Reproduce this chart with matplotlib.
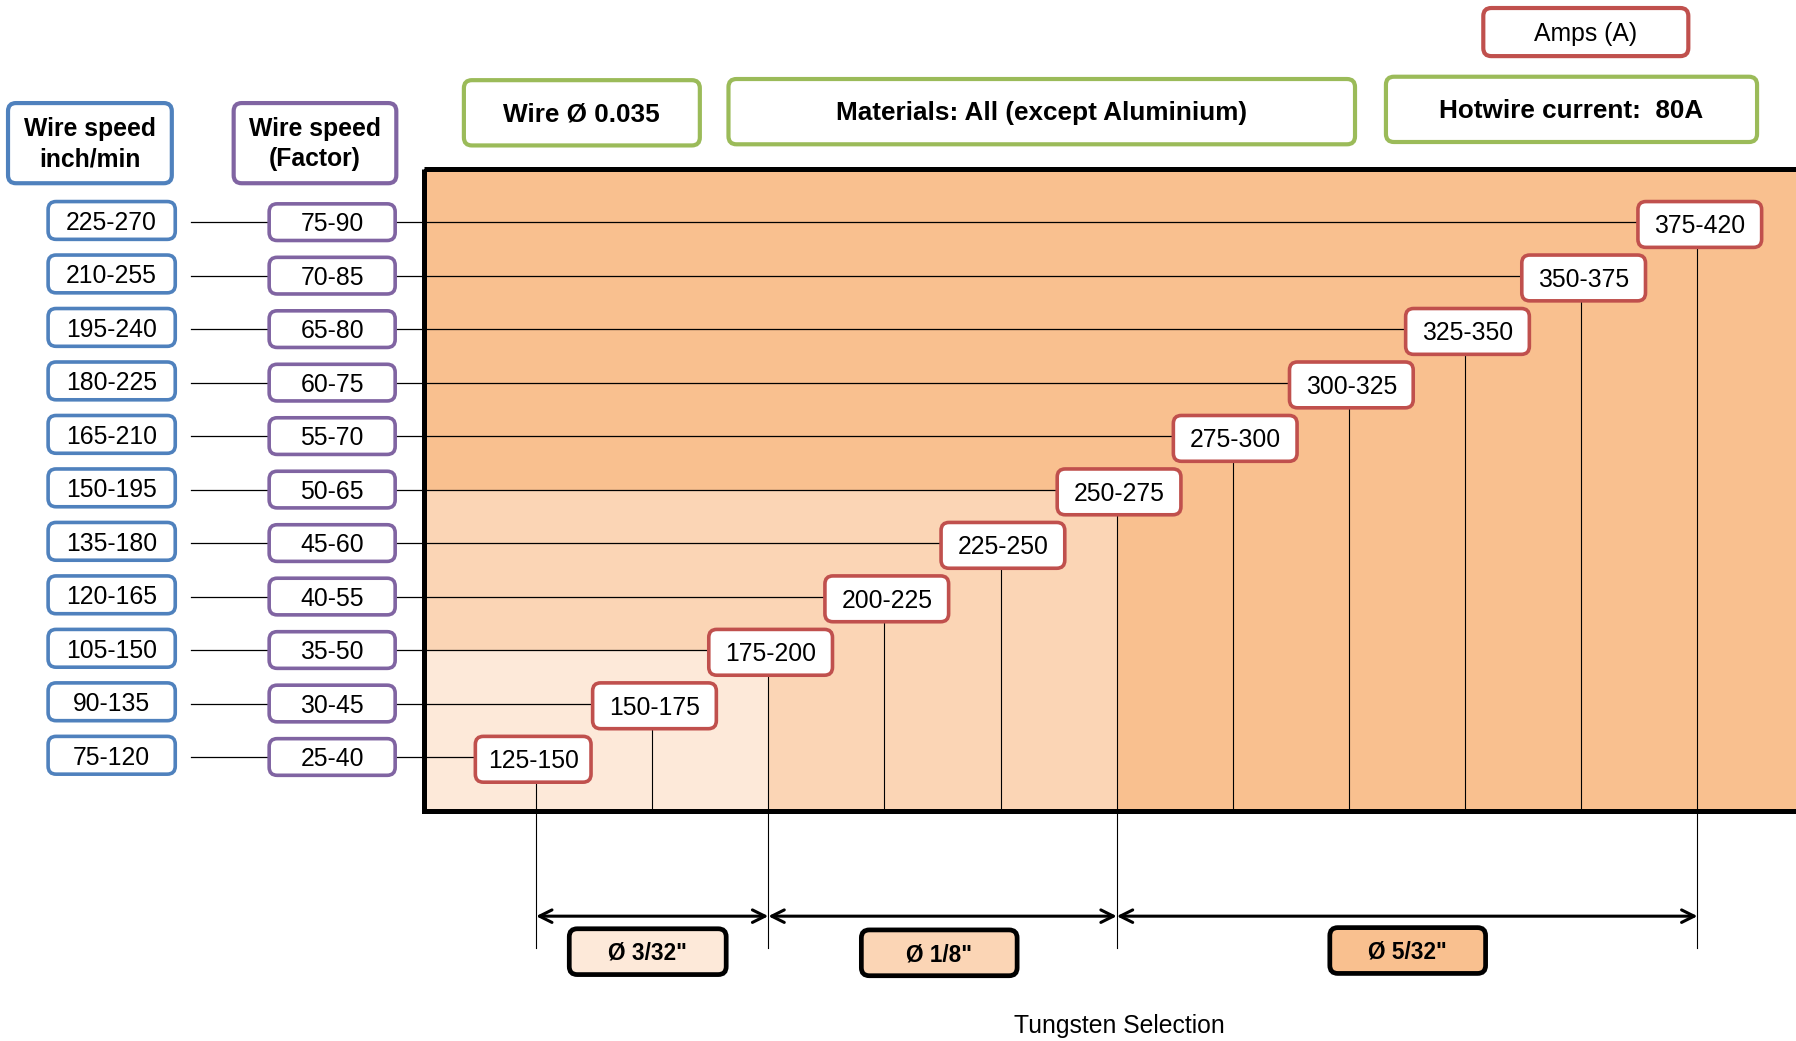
import matplotlib
matplotlib.use("Agg")
import matplotlib.pyplot as plt
from matplotlib.patches import FancyBboxPatch, Rectangle

# ---------------- data (bottom row first) ----------------
wire_speed_inch = ["75-120", "90-135", "105-150", "120-165", "135-180", "150-195",
                   "165-210", "180-225", "195-240", "210-255", "225-270"]
wire_speed_factor = ["25-40", "30-45", "35-50", "40-55", "45-60", "50-65",
                     "55-70", "60-75", "65-80", "70-85", "75-90"]
amps = ["125-150", "150-175", "175-200", "200-225", "225-250", "250-275",
        "275-300", "300-325", "325-350", "350-375", "375-420"]
tungsten_labels = ['Ø 3/32"', 'Ø 1/8"', 'Ø 5/32"']
tungsten_ranges = [(0, 2), (2, 5), (5, 10)]   # amps index spans
header_left = ["Wire speed\ninch/min", "Wire speed\n(Factor)"]
header_top = ["Wire Ø 0.035", "Materials: All (except Aluminium)", "Hotwire current:  80A"]
amps_title = "Amps (A)"
xlabel = "Tungsten Selection"

# ---------------- style ----------------
RED = "#C0504D"; BLUE = "#4F81BD"; PURPLE = "#8064A2"; GREEN = "#9BBB59"
DARK = "#F9C08F"; MED = "#FBD5B5"; LIGHT = "#FDE9D9"
FONT = "Liberation Sans"

W, H = 1568, 909
fig = plt.figure(figsize=(17.96, 10.41), dpi=100)
ax = fig.add_axes([0, 0, 1, 1])
ax.set_xlim(0, W)
ax.set_ylim(H, 0)
ax.axis("off")

# layout helpers
ROW0, ROWSTEP = 661, 46.7
COL0, COLSTEP = 468, 101.4
RECT_L, RECT_T, RECT_B = 370, 148, 708

def row_y(i):
    return ROW0 - i * ROWSTEP

def col_x(i):
    return COL0 + i * COLSTEP

def rbox(x0, y0, x1, y1, ec, fc="white", lw=2.6, r=7, z=5):
    p = FancyBboxPatch((x0, y0), x1 - x0, y1 - y0,
                       boxstyle=f"round,pad=0,rounding_size={r}",
                       ec=ec, fc=fc, lw=lw, zorder=z)
    ax.add_patch(p)

def txt(x, y, s, size=17.8, weight="normal", z=6, **kw):
    ax.text(x, y, s, ha="center", va="center", fontsize=size,
            fontweight=weight, family=FONT, zorder=z, **kw)

# background shading of the main panel
ax.add_patch(Rectangle((RECT_L, RECT_T), W + 20 - RECT_L, RECT_B - RECT_T,
                       fc=DARK, ec="none", zorder=1))
ax.add_patch(Rectangle((RECT_L, row_y(5)), col_x(5) - RECT_L, RECT_B - row_y(5),
                       fc=MED, ec="none", zorder=1.1))
ax.add_patch(Rectangle((RECT_L, row_y(2)), col_x(2) - RECT_L, RECT_B - row_y(2),
                       fc=LIGHT, ec="none", zorder=1.2))
ax.add_patch(Rectangle((RECT_L, RECT_T), W + 40 - RECT_L, RECT_B - RECT_T,
                       fc="none", ec="black", lw=3.6, zorder=4))

n = len(amps)
ext_cols = sorted({a for a, b in tungsten_ranges} | {b for a, b in tungsten_ranges})
for i in range(n):
    y = row_y(i)
    x = col_x(i)
    # horizontal connector
    ax.plot([167, x - 50], [y, y], color="black", lw=0.9, zorder=2)
    # vertical drop line
    y_end = 828 if i in ext_cols else RECT_B
    ax.plot([x, x], [y + 20, y_end], color="black", lw=0.8, zorder=2)
    # amps box
    left = x - 53 if i == 0 else x - 52
    right = x + 48 if i == 0 else x + 56
    rbox(left, y - 18, right, y + 22, RED)
    txt((left + right) / 2, y + 3.5, amps[i])
    # wire speed inch/min box
    rbox(42, y - 18, 153, y + 15, BLUE)
    txt(97.5, y + 0.5, wire_speed_inch[i])
    # factor box
    rbox(235, y - 16, 345, y + 16, PURPLE)
    txt(290, y + 2, wire_speed_factor[i])

# headers
rbox(7, 90, 150, 160, BLUE, lw=3)
txt(78.5, 126, header_left[0], weight="bold", linespacing=1.3)
rbox(204, 90, 346, 160, PURPLE, lw=3)
txt(275, 126, header_left[1], weight="bold", linespacing=1.3)

top_boxes = [(405, 70, 611, 127), (636, 69, 1183, 126), (1210, 67, 1534, 124)]
for (x0, y0, x1, y1), s in zip(top_boxes, header_top):
    rbox(x0, y0, x1, y1, GREEN, lw=3)
    txt((x0 + x1) / 2, (y0 + y1) / 2 + 1.5, s, weight="bold", size=18.8)

rbox(1295, 7, 1474, 49, RED, lw=3)
txt(1384.5, 30, amps_title)

# tungsten arrows and labels
fills = [LIGHT, MED, DARK]
label_boxes = [(497, 811, 634, 851), (752, 812, 888, 852), (1161, 810, 1297, 850)]
for (a, b), lab, fc, (x0, y0, x1, y1) in zip(tungsten_ranges, tungsten_labels, fills, label_boxes):
    ax.annotate("", xy=(col_x(b), 800), xytext=(col_x(a), 800),
                arrowprops=dict(arrowstyle="<->,head_length=0.9,head_width=0.45",
                                color="black", lw=2.2, shrinkA=0, shrinkB=0),
                zorder=3)
    rbox(x0, y0, x1, y1, "black", fc=fc, lw=3.4)
    txt((x0 + x1) / 2, (y0 + y1) / 2 + 1.5, lab, weight="bold", size=16.3)

txt(977, 896, xlabel)

fig.savefig("out.png", dpi=100)
